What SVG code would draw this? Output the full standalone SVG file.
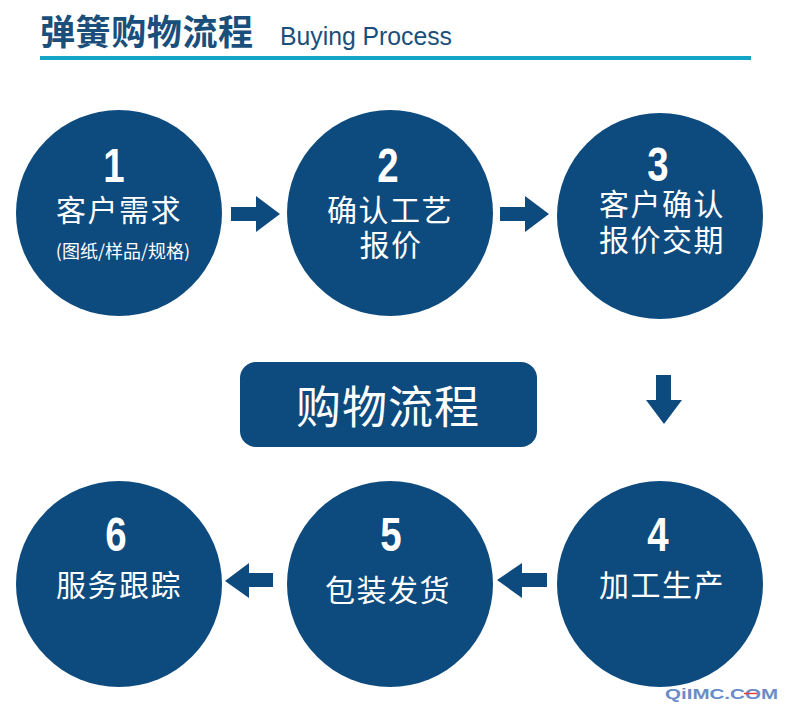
<svg xmlns="http://www.w3.org/2000/svg" width="790" height="718" viewBox="0 0 790 718">
<style>
.node{fill:#0d4a7e}
.num{font-family:"Liberation Sans",Arial,sans-serif;font-weight:bold;font-size:48px;fill:#fff;text-anchor:middle}
.lbl{font-family:"Noto Sans CJK SC","Noto Sans",sans-serif;font-size:30px;fill:#fff;text-anchor:middle;letter-spacing:1.5px}
.sub{font-family:"Noto Sans CJK SC","Noto Sans",sans-serif;font-size:18px;fill:#fff;text-anchor:middle}
.arr{fill:#0d4a7e}
</style>
<rect width="790" height="718" fill="#fff"/>
<g id="title">
<text x="40" y="45" font-family="'Noto Sans CJK SC',sans-serif" font-weight="bold" font-size="35" fill="#1a4f7c" textLength="213">弹簧购物流程</text>
<text x="280" y="45" font-family="'Liberation Sans',Arial,sans-serif" font-size="25" fill="#1a4f7c" textLength="172" lengthAdjust="spacingAndGlyphs">Buying Process</text>
<rect x="40" y="56" width="711" height="4" fill="#12a5c5"/>
</g>
<g id="node1">
<circle class="node" cx="119" cy="213" r="103"/>
<text class="num" transform="translate(114,182) scale(0.8,1)">1</text>
<text class="lbl" x="119" y="221">客户需求</text>
<text class="sub" x="123" y="258">(图纸/样品/规格)</text>
</g>
<g id="node2">
<circle class="node" cx="390" cy="213" r="103"/>
<text class="num" transform="translate(388,182) scale(0.8,1)">2</text>
<text class="lbl" x="390" y="221">确认工艺</text>
<text class="lbl" x="391" y="256">报价</text>
</g>
<g id="node3">
<circle class="node" cx="660" cy="216" r="103"/>
<text class="num" transform="translate(658,181) scale(0.8,1)">3</text>
<text class="lbl" x="662" y="215">客户确认</text>
<text class="lbl" x="662" y="251">报价交期</text>
</g>
<g id="center">
<rect x="240" y="362" width="297" height="85" rx="16" class="node"/>
<text x="388" y="424" font-family="'Noto Sans CJK SC',sans-serif" font-size="45" fill="#fff" text-anchor="middle" letter-spacing="1">购物流程</text>
</g>
<g id="node4">
<circle class="node" cx="660" cy="584" r="103"/>
<text class="num" transform="translate(658,551) scale(0.8,1)">4</text>
<text class="lbl" x="662" y="596">加工生产</text>
</g>
<g id="node5">
<circle class="node" cx="390" cy="584" r="103"/>
<text class="num" transform="translate(391,551) scale(0.8,1)">5</text>
<text class="lbl" x="388" y="601">包装发货</text>
</g>
<g id="node6">
<circle class="node" cx="119" cy="584" r="103"/>
<text class="num" transform="translate(116,551) scale(0.8,1)">6</text>
<text class="lbl" x="119" y="596">服务跟踪</text>
</g>
<g id="connectors">
<polygon class="arr" points="231,207 256,207 256,196 280,214 256,232 256,221 231,221"/>
<polygon class="arr" points="500,207 525,207 525,196 549,214 525,232 525,221 500,221"/>
<polygon class="arr" points="656,375 671,375 671,400 682,400 664,424 646,400 656,400"/>
<polygon class="arr" points="547,573 522,573 522,563 497,580 522,598 522,587 547,587"/>
<polygon class="arr" points="273,573 249,573 249,563 225,581 249,598 249,587 273,587"/>
</g>
<g id="watermark">
<text x="665" y="699" font-family="'Liberation Sans',Arial,sans-serif" font-weight="bold" font-size="15" fill="#6a8cc8" textLength="113" lengthAdjust="spacingAndGlyphs">QiIMC.COM</text>
<line x1="744" y1="693.5" x2="757" y2="693.5" stroke="#e0413a" stroke-width="1.5"/>
</g>
</svg>
